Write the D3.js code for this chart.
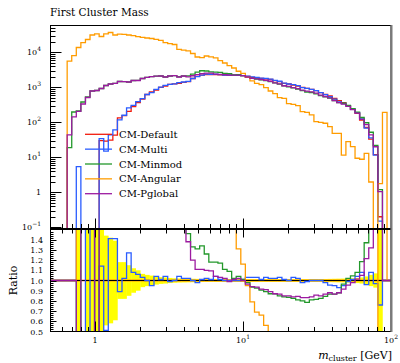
<!DOCTYPE html>
<html>
<head>
<meta charset="utf-8">
<title>First Cluster Mass</title>
<script src="https://d3js.org/d3.v7.min.js"></script>
<style>
  body { margin: 0; background: white; }
  svg { display: block; font-family: "DejaVu Serif", serif; }
</style>
</head>
<body>
<svg id="chart" width="400" height="363"></svg>
<script>
// 70 log-spaced mass bins
const binLo = 0.648, binHi = 94, nBins = 70;

const seriesNames = ["CM-Default", "CM-Multi", "CM-Minmod", "CM-Angular", "CM-Pglobal"];
const seriesColors = ["#f21b0c", "#2a5cff", "#23982b", "#ff9c00", "#9c1aa0"];

// upper panel: entries per bin
const defaultVals = [0, 0, 0, 0, 0, 0, 0, 30, 29, 31,
  43, 133, 156, 204, 283, 368, 463, 623, 744, 837,
  1000, 1089, 1219, 1259, 1300, 1389, 1445, 1783, 2061, 2218,
  2323, 2323, 2291, 2275, 2244, 2244, 2218, 2193, 2145, 2037,
  1931, 1867, 1807, 1749, 1671, 1545, 1445, 1301, 1243, 1163,
  1089, 1000, 936, 877, 800, 701, 631, 564, 485, 414,
  363, 298, 235, 181, 116, 71, 33, 12, 0.2, 0];
const multiVals = [0, 0, 5.4, 0, 0, 0, 0, 34, 15, 44,
  61, 118, 159, 259, 306, 390, 477, 623, 707, 870,
  1010, 1133, 1207, 1259, 1352, 1417, 1474, 1783, 2020, 2240,
  2369, 2346, 2383, 2298, 2244, 2244, 2218, 2193, 2166, 2098,
  1989, 1923, 1825, 1801, 1704, 1576, 1488, 1314, 1243, 1198,
  1111, 980, 927, 877, 800, 701, 618, 539, 461, 385,
  345, 295, 237, 188, 125, 68, 36, 11.6, 0.15, 0];
const minmodVals = [18.8, 197, 210, 380, 528, 784, 811, 925, 1125, 1243,
  1300, 1465, 1445, 1417, 1564, 1585, 1783, 1931, 2009, 2076,
  2104, 1970, 2104, 2145, 2000, 2100, 2117, 2371, 2700, 2972,
  2927, 2741, 2703, 2662, 2491, 2446, 2262, 2281, 2166, 1996,
  1805, 1727, 1635, 1557, 1454, 1344, 1228, 1093, 1038, 959,
  882, 800, 735, 710, 652, 578, 533, 488, 420, 364,
  350, 304, 246, 195, 137, 97, 52, 22, 1.2, 0];
const angularVals = [5600, 8000, 13700, 19000, 23200, 31200, 33800, 28300, 33800, 36800,
  31200, 32900, 32700, 31200, 29800, 27900, 26800, 25600, 24800, 23500,
  22000, 19000, 17800, 16700, 12200, 11500, 11000, 9250, 7340, 7010,
  7830, 7430, 6960, 5800, 4950, 4140, 3560, 2870, 2490, 1940,
  1530, 1290, 1190, 980, 784, 656, 505, 485, 340, 327,
  298, 201, 193, 162, 104, 100, 94, 75, 48.5, 48.5,
  11.6, 27.9, 20.1, 9.4, 8.8, 13, 1.97, 0, 1.78, 193];
const pglobalVals = [44, 142, 204, 333, 511, 784, 811, 925, 1125, 1243,
  1300, 1465, 1445, 1417, 1564, 1564, 1783, 1931, 2009, 2076,
  2104, 1970, 2104, 2145, 1970, 2100, 1994, 2140, 2288, 2462,
  2555, 2544, 2383, 2343, 2289, 2222, 2240, 2237, 2145, 1966,
  1815, 1746, 1653, 1592, 1487, 1344, 1251, 1106, 1057, 977,
  920, 833, 780, 737, 686, 596, 546, 496, 420, 364,
  332, 285, 230, 183, 122, 86, 44, 20, 1.04, 0];

// lower panel: ratio to CM-Default (2 = above the panel, 0 = below it)
const multiRatio = [1, 1, 2, 2, 0, 2, 0, 1.14, 0.51, 1.41,
  1.41, 0.89, 1.02, 1.27, 1.08, 1.06, 1.03, 1.0, 0.95, 1.04,
  1.01, 1.04, 0.99, 1.0, 1.04, 1.02, 1.02, 1.0, 0.98, 1.01,
  1.02, 1.01, 1.04, 1.01, 1.0, 1.0, 1.0, 1.0, 1.01, 1.03,
  1.03, 1.03, 1.01, 1.03, 1.02, 1.02, 1.03, 1.01, 1.0, 1.03,
  1.02, 0.98, 0.99, 1.0, 1.0, 1.0, 0.98, 0.955, 0.95, 0.93,
  0.95, 0.99, 1.01, 1.04, 1.08, 0.96, 1.08, 0.97, 0.76, 1];
const minmodRatio = [1, 1, 0, 2, 2, 2, 0, 2, 2, 2,
  2, 2, 2, 2, 2, 2, 2, 2, 2, 2,
  2, 2, 2, 2, 2, 2, 1.46, 1.33, 1.31, 1.34,
  1.26, 1.18, 1.18, 1.17, 1.11, 1.09, 1.02, 1.04, 1.01, 0.98,
  0.935, 0.925, 0.905, 0.89, 0.87, 0.87, 0.85, 0.84, 0.835, 0.825,
  0.81, 0.80, 0.785, 0.81, 0.815, 0.825, 0.845, 0.866, 0.866, 0.88,
  0.965, 1.02, 1.045, 1.08, 1.185, 1.37, 2, 2, 2, 1];
const angularRatio = [1, 1, 2, 2, 2, 2, 2, 2, 2, 2,
  2, 2, 2, 2, 2, 2, 2, 2, 2, 2,
  2, 2, 2, 2, 2, 2, 2, 2, 2, 2,
  2, 2, 2, 2, 2, 2, 2, 1.31, 1.16, 0.95,
  0.79, 0.69, 0.66, 0.56, 0, 0, 0, 0, 0, 0,
  0, 0, 0, 0, 0, 0, 0, 0, 0, 0,
  0, 0, 0, 0, 0, 0, 0, 0, 2, 2];
const pglobalRatio = [1, 1, 0, 2, 2, 2, 0, 2, 2, 2,
  2, 2, 2, 2, 2, 2, 2, 2, 2, 2,
  2, 2, 2, 2, 2, 2, 1.38, 1.2, 1.11, 1.11,
  1.10, 1.095, 1.04, 1.03, 1.02, 0.99, 1.01, 1.02, 1.0, 0.965,
  0.94, 0.935, 0.915, 0.91, 0.89, 0.87, 0.866, 0.85, 0.85, 0.84,
  0.845, 0.833, 0.833, 0.84, 0.857, 0.85, 0.866, 0.88, 0.866, 0.88,
  0.915, 0.955, 0.98, 1.013, 1.05, 1.215, 1.32, 2, 2, 1];
// relative uncertainty of CM-Default (yellow band half-width)
const defaultErr = [0, 0, 1, 0, 1, 1, 1, 1, 0.44, 0.42,
  0.39, 0.18, 0.18, 0.15, 0.12, 0.10, 0.065, 0.055, 0.048, 0.04,
  0.033, 0.03, 0.025, 0.022, 0.02, 0.019, 0.018, 0.017, 0.016, 0.015,
  0.014, 0.014, 0.014, 0.014, 0.014, 0.014, 0.014, 0.014, 0.014, 0.014,
  0.014, 0.014, 0.014, 0.014, 0.014, 0.014, 0.014, 0.014, 0.014, 0.014,
  0.014, 0.014, 0.014, 0.014, 0.014, 0.014, 0.015, 0.016, 0.017, 0.018,
  0.019, 0.02, 0.022, 0.025, 0.03, 0.04, 0.055, 0.07, 1, 0];

const mainSeries = [defaultVals, multiVals, minmodVals, angularVals, pglobalVals];
const ratioSeries = [defaultVals.map(() => 1), multiRatio, minmodRatio, angularRatio, pglobalRatio];

// layout
const left = 50.5, right = 391;
const mainTop = 25.5, mainBottom = 228.5, ratioTop = 229.5, ratioBottom = 331.5;

const svg = d3.select("#chart");

const x = d3.scaleLog().domain([0.5, 100]).range([left, right]);
const y = d3.scaleLog().domain([Math.pow(10, -1.0343), Math.pow(10, 4.7657)]).range([mainBottom, mainTop]);
const yr = d3.scaleLinear().domain([0.5, 1.5]).range([ratioBottom, ratioTop]);

const edges = d3.range(nBins + 1).map(i => binLo * Math.pow(binHi / binLo, i / nBins));

const defs = svg.append("defs");
defs.append("clipPath").attr("id", "clipMain").append("rect")
  .attr("x", left).attr("y", mainTop).attr("width", right - left).attr("height", mainBottom - mainTop);
defs.append("clipPath").attr("id", "clipRatio").append("rect")
  .attr("x", left).attr("y", ratioTop).attr("width", right - left).attr("height", ratioBottom - ratioTop);

// histogram step lines
const below = mainBottom + 40;
const yv = v => v > 0 ? y(v) : below;
function mainPath(vals) {
  const pts = [[x(edges[0]), below]];
  vals.forEach((v, i) => { pts.push([x(edges[i]), yv(v)], [x(edges[i + 1]), yv(v)]); });
  pts.push([x(edges[nBins]), below]);
  return d3.line()(pts);
}
function ratioPath(r) {
  const pts = [[x(0.5), yr(1)], [x(edges[0]), yr(1)]];
  r.forEach((v, i) => { pts.push([x(edges[i]), yr(v)], [x(edges[i + 1]), yr(v)]); });
  pts.push([x(edges[nBins]), yr(1)], [x(100), yr(1)]);
  return d3.line()(pts);
}

const gMain = svg.append("g").attr("clip-path", "url(#clipMain)");
mainSeries.forEach((vals, i) => {
  gMain.append("path")
    .attr("d", mainPath(vals))
    .attr("fill", "none")
    .attr("stroke", seriesColors[i])
    .attr("stroke-width", 1.3);
});

const gRatio = svg.append("g").attr("clip-path", "url(#clipRatio)");
// yellow uncertainty band
gRatio.selectAll("rect.band")
  .data(defaultErr.map((e, i) => ({ e, i })).filter(d => d.e > 0))
  .enter().append("rect")
  .attr("class", "band")
  .attr("x", d => x(edges[d.i]))
  .attr("width", d => x(edges[d.i + 1]) - x(edges[d.i]) + 0.3)
  .attr("y", d => yr(1 + d.e))
  .attr("height", d => yr(1 - d.e) - yr(1 + d.e))
  .attr("fill", "#ffff00");

ratioSeries.forEach((r, i) => {
  gRatio.append("path")
    .attr("d", ratioPath(r))
    .attr("fill", "none")
    .attr("stroke", seriesColors[i])
    .attr("stroke-width", 1.3);
  if (i === 0) {
    gRatio.append("line")
      .attr("x1", left).attr("x2", right)
      .attr("y1", yr(1)).attr("y2", yr(1))
      .attr("stroke", "black").attr("stroke-width", 1);
  }
});

// frames
[[mainTop, mainBottom], [ratioTop, ratioBottom]].forEach(([t, b]) => {
  svg.append("rect")
    .attr("x", left).attr("y", t)
    .attr("width", right - left).attr("height", b - t)
    .attr("fill", "none").attr("stroke", "black").attr("stroke-width", 1);
});
svg.append("line")
  .attr("x1", right + 0.5).attr("x2", right + 0.5)
  .attr("y1", mainTop - 0.5).attr("y2", ratioBottom + 0.5)
  .attr("stroke", "#7a7a7a").attr("stroke-width", 2);

// x ticks
const xTicks = [];
[-1, 0, 1].forEach(d => d3.range(1, 10).forEach(m => {
  const v = m * Math.pow(10, d);
  if (v > 0.5 && v < 100) xTicks.push({ v, major: m === 1 });
}));
const ticks = svg.append("g").attr("stroke", "black").attr("stroke-width", 1);
xTicks.forEach(t => {
  const px = Math.round(x(t.v)) + 0.5;
  ticks.append("line").attr("x1", px).attr("x2", px)
    .attr("y1", mainBottom).attr("y2", mainBottom - (t.major ? 10 : 4.5));
  ticks.append("line").attr("x1", px).attr("x2", px)
    .attr("y1", ratioTop).attr("y2", ratioTop + (t.major ? 8 : 4));
  ticks.append("line").attr("x1", px).attr("x2", px)
    .attr("y1", ratioBottom).attr("y2", ratioBottom - (t.major ? 10 : 4.5));
});

// main y ticks
const [yLo, yHi] = y.domain();
d3.range(-2, 5).forEach(d => d3.range(1, 10).forEach(m => {
  const v = m * Math.pow(10, d);
  if (v <= yLo || v >= yHi) return;
  const py = Math.round(y(v)) + 0.5;
  ticks.append("line").attr("x1", left).attr("x2", left + (m === 1 ? 11 : 5))
    .attr("y1", py).attr("y2", py);
}));

// ratio y ticks
d3.range(0, 51).forEach(k => {
  const v = 0.5 + k * 0.02;
  if (k === 0 || k === 50) return;
  const py = Math.round(yr(v)) + 0.5;
  ticks.append("line").attr("x1", left).attr("x2", left + (k % 5 === 0 ? 6 : 3))
    .attr("y1", py).attr("y2", py);
});

// tick labels
const labels = svg.append("g").attr("font-size", 8).attr("fill", "black");
function powLabel(g, px, py, exp, anchor) {
  const t = g.append("text").attr("x", px).attr("y", py).attr("text-anchor", anchor);
  if (exp === 0) { t.text("1"); return; }
  t.append("tspan").text("10");
  t.append("tspan").attr("dy", -4).attr("font-size", 6)
    .text(exp < 0 ? "\u2212" + (-exp) : String(exp));
}
[-1, 0, 1, 2, 3, 4].forEach(e => powLabel(labels, 41, y(Math.pow(10, e)) + 3, e, "end"));
[0, 1, 2].forEach(e => powLabel(labels, x(Math.pow(10, e)), 343, e, "middle"));
d3.range(5, 15).forEach(k => {
  labels.append("text")
    .attr("x", 43).attr("y", yr(k / 10) + 3)
    .attr("text-anchor", "end")
    .text((k / 10).toFixed(1));
});

// titles
svg.append("text").attr("x", 50).attr("y", 15.5)
  .attr("font-size", 10.5).text("First Cluster Mass");

svg.append("text")
  .attr("transform", `translate(16.5,${yr(1)}) rotate(-90)`)
  .attr("text-anchor", "middle")
  .attr("font-size", 11)
  .text("Ratio");

const xTitle = svg.append("text")
  .attr("x", 392).attr("y", 358.5)
  .attr("text-anchor", "end")
  .attr("font-size", 11);
xTitle.append("tspan").attr("font-style", "italic").text("m");
xTitle.append("tspan").attr("font-size", 8).attr("dy", 2.5).text("cluster");
xTitle.append("tspan").attr("dy", -2.5).text(" [GeV]");

// legend
const legend = svg.append("g");
seriesNames.forEach((name, i) => {
  const ly = 134.3 + i * 14.85;
  legend.append("line")
    .attr("x1", 85).attr("x2", 112)
    .attr("y1", ly).attr("y2", ly)
    .attr("stroke", seriesColors[i]).attr("stroke-width", 1.3);
  legend.append("text")
    .attr("x", 119).attr("y", ly + 3.6)
    .attr("font-size", 10)
    .text(name);
});
</script>
</body>
</html>
